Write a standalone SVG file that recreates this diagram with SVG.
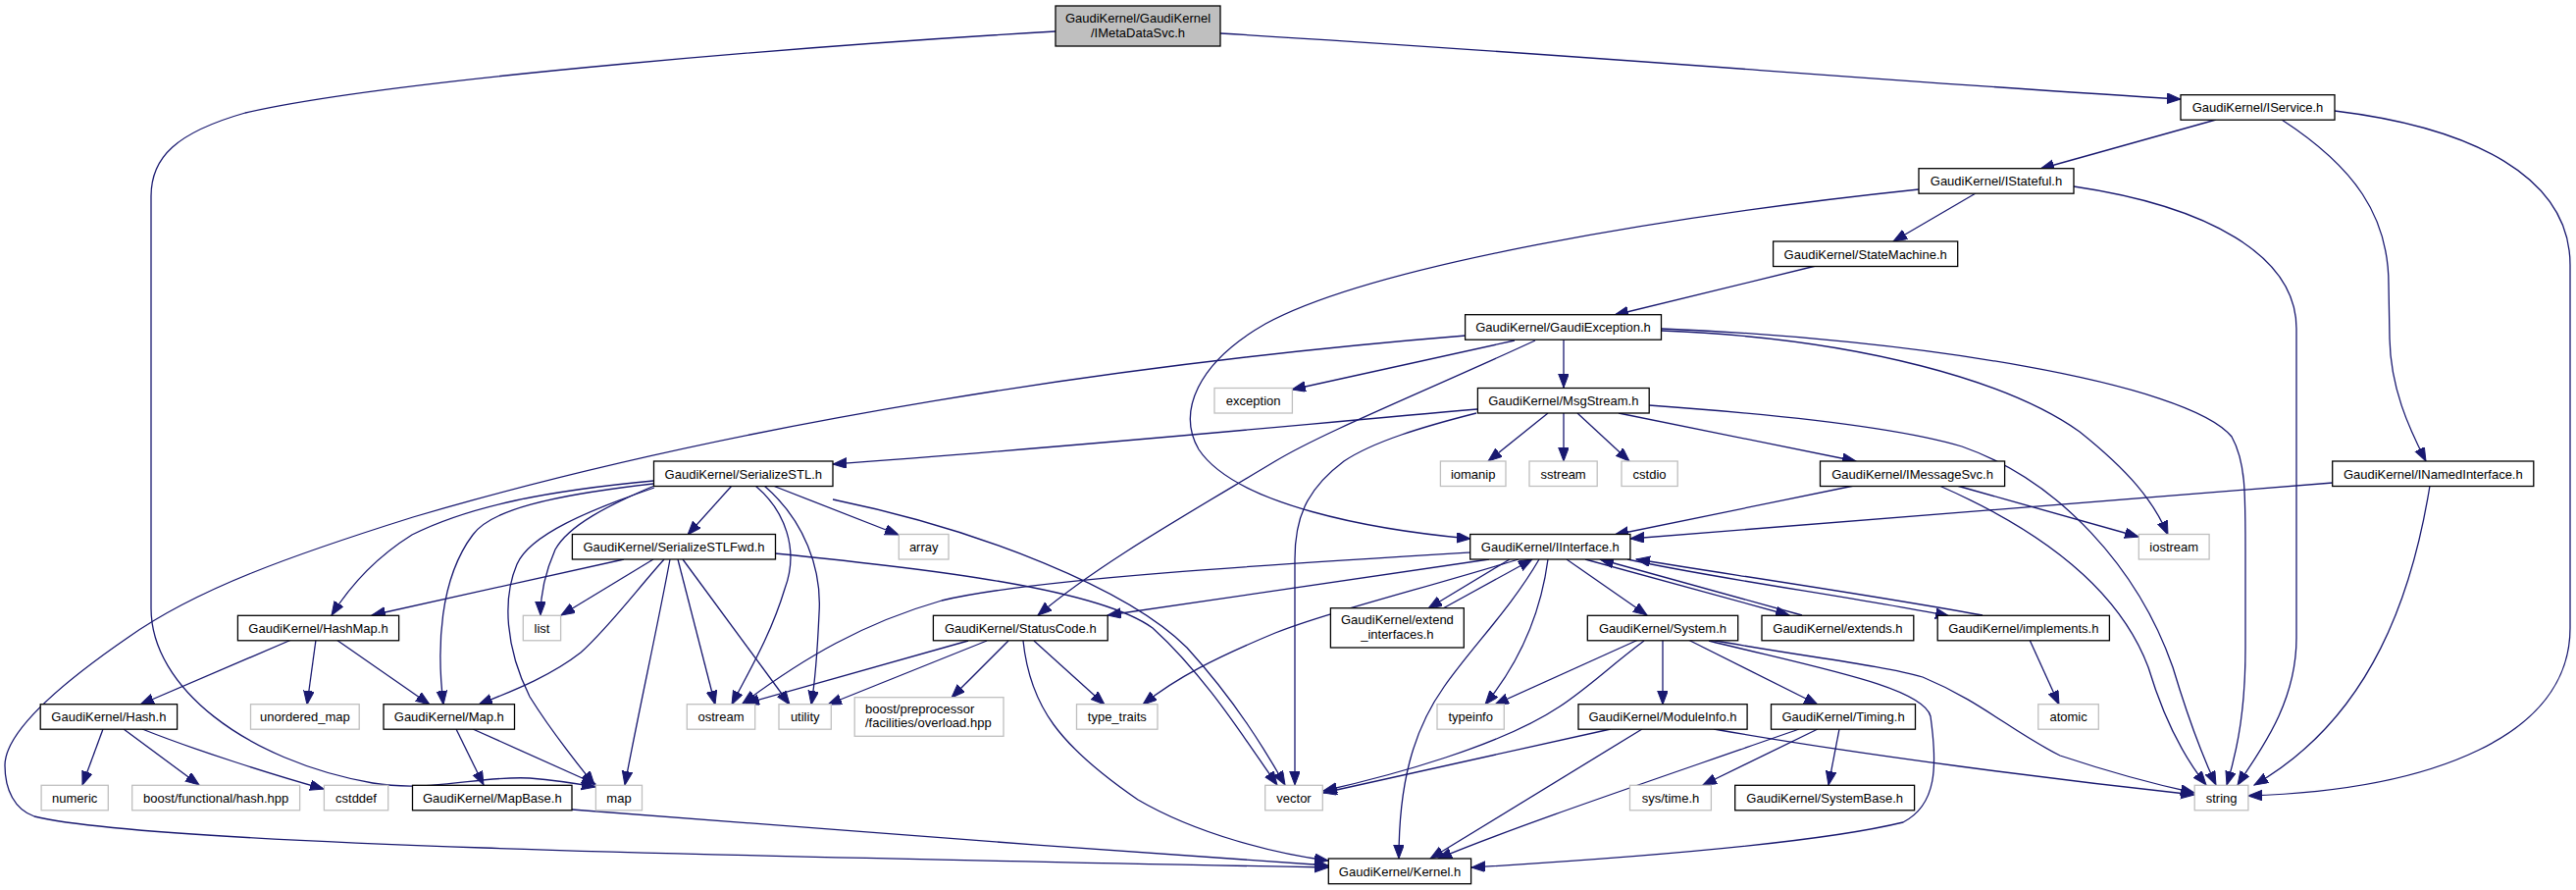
<svg xmlns="http://www.w3.org/2000/svg" width="2626" height="907" viewBox="0 0 2626 907">
<defs>
<marker id="ah" markerUnits="userSpaceOnUse" markerWidth="15" markerHeight="12" refX="14" refY="5.3" orient="auto"><path d="M0,0 L14,5.3 L0,10.6 z" fill="#191970" stroke="#191970" stroke-width="1"/></marker>
<style>
text{font-family:"Liberation Sans",Arial,Helvetica,sans-serif;font-size:13px;fill:#000;text-anchor:middle}
.n rect{fill:#fff;stroke:#000;stroke-width:1.3}
.x rect{fill:#fff;stroke:#bfbfbf;stroke-width:1.3}
.r rect{fill:#bfbfbf;stroke:#000;stroke-width:1.3}
#edges path{fill:none;stroke:#191970;stroke-width:1.3;marker-end:url(#ah)}
</style>
</defs>
<rect width="2626" height="907" fill="#fff"/>
<g id="edges">
<path d="M1076,32 C850,45 400,80 250,115 C180,135 154,160 154,200 L154,620 C154,700 250,775 380,798 C440,808 490,790 540,793 C565,795 585,798 607,802"/>
<path d="M1244,34 C1600,55 1950,85 2223,101"/>
<path d="M2259,122 L2080,172"/>
<path d="M2326,122 C2400,170 2435,220 2435,290 L2436,345 C2437,395 2455,435 2473,470"/>
<path d="M2380,113 C2520,130 2620,180 2620,270 L2620,640 C2620,750 2480,805 2292,811"/>
<path d="M2014,197 L1930,246"/>
<path d="M1956,193 C1700,220 1400,270 1290,330 C1220,370 1200,420 1222,458 C1260,515 1400,540 1499,549"/>
<path d="M2114,190 C2250,210 2341,260 2341,335 L2341,650 C2341,720 2300,770 2281,800"/>
<path d="M1851,271 L1646,321"/>
<path d="M1594,346 L1594,395"/>
<path d="M1544,347 L1317,397"/>
<path d="M1565,347 C1450,400 1350,440 1300,470 C1200,530 1120,575 1058,627"/>
<path d="M1494,342 C1150,370 750,430 421,527 C300,565 200,600 130,650 C50,705 5,750 5,780 C5,805 15,825 35,832 C150,860 700,872 1354,884"/>
<path d="M1694,337 C1900,345 2050,390 2120,440 C2170,480 2195,510 2210,545"/>
<path d="M1694,335 C1950,345 2230,390 2275,445 C2289,470 2289,500 2289,560 L2289,660 C2289,720 2282,760 2270,800"/>
<path d="M1578,421 L1517,470"/>
<path d="M1594,421 L1594,470"/>
<path d="M1608,421 L1661,470"/>
<path d="M1650,421 L1892,470"/>
<path d="M1681,413 C1850,425 1950,440 2000,455 C2100,490 2180,580 2215,680 C2230,730 2245,770 2259,800"/>
<path d="M1506,417 C1300,435 1100,455 849,473"/>
<path d="M1505,421 C1450,435 1400,450 1370,470 C1330,500 1320,530 1320,570 L1320,800"/>
<path d="M1890,495 L1646,545"/>
<path d="M1995,495 L2180,547"/>
<path d="M1977,495 C2080,540 2160,600 2190,680 C2205,730 2225,770 2249,800"/>
<path d="M2378,492 L1662,549"/>
<path d="M2477,495 C2460,600 2420,730 2298,800"/>
<path d="M746,495 L701,545"/>
<path d="M788,495 L916,545"/>
<path d="M770,495 C800,520 815,560 800,600 C785,650 760,690 746,718"/>
<path d="M779,495 C820,530 838,580 835,625 C833,670 830,700 827,718"/>
<path d="M666,490 C560,500 480,515 420,545 C380,570 355,600 338,627"/>
<path d="M666,493 C560,505 500,520 482,545 C448,590 445,660 452,718"/>
<path d="M667,495 C620,515 580,535 566,560 C555,585 551,605 551,627"/>
<path d="M667,497 C600,520 540,545 527,575 C512,610 515,660 540,710 C565,750 590,780 606,800"/>
<path d="M849,509 C1000,540 1150,600 1210,660 C1260,715 1290,765 1310,800"/>
<path d="M790,564 C950,580 1120,600 1175,640 C1230,690 1270,755 1302,800"/>
<path d="M636,570 L379,627"/>
<path d="M666,570 L572,627"/>
<path d="M677,570 C650,600 620,640 592,665 C560,690 520,705 488,718"/>
<path d="M683,570 C670,640 650,730 637,800"/>
<path d="M691,570 L729,718"/>
<path d="M696,570 L805,718"/>
<path d="M297,652 L143,718"/>
<path d="M322,652 L313,718"/>
<path d="M343,652 L438,718"/>
<path d="M105,743 L84,800"/>
<path d="M126,743 L203,800"/>
<path d="M145,743 C200,765 280,790 330,804"/>
<path d="M465,743 L493,800"/>
<path d="M482,743 L607,799"/>
<path d="M583,825 C700,835 1100,865 1354,882"/>
<path d="M987,653 L760,717"/>
<path d="M1006,653 L844,718"/>
<path d="M1028,653 L970,711"/>
<path d="M1054,653 L1126,718"/>
<path d="M1043,653 C1050,720 1080,760 1160,815 C1220,850 1300,870 1354,877"/>
<path d="M1499,563 C1300,575 1050,590 960,612 C880,635 820,670 757,717"/>
<path d="M1518,570 L1129,627"/>
<path d="M1548,570 C1450,600 1350,625 1300,645 C1240,670 1200,690 1165,718"/>
<path d="M1539,570 L1456,620"/>
<path d="M1471,620 L1562,570"/>
<path d="M1569,570 C1540,620 1500,660 1472,700 C1440,745 1426,800 1426,875"/>
<path d="M1578,570 C1570,630 1545,680 1514,718"/>
<path d="M1597,570 L1679,627"/>
<path d="M1616,570 L1824,627"/>
<path d="M1837,627 L1631,570"/>
<path d="M1659,570 C1750,590 1900,610 1987,628"/>
<path d="M2021,627 C1900,605 1760,585 1668,570"/>
<path d="M1670,652 L1524,718"/>
<path d="M1676,653 C1640,680 1620,700 1590,720 C1530,760 1420,790 1349,806"/>
<path d="M1695,652 L1695,718"/>
<path d="M1721,652 L1853,718"/>
<path d="M1744,652 C1830,668 1920,678 1960,690 C2020,715 2050,745 2100,770 C2160,790 2200,800 2237,808"/>
<path d="M1742,653 C1850,680 1960,700 1968,730 C1975,780 1975,820 1940,838 C1850,860 1650,875 1500,884"/>
<path d="M1642,743 L1349,808"/>
<path d="M1674,743 L1458,875"/>
<path d="M1747,743 C1900,770 2100,795 2237,810"/>
<path d="M1853,743 L1736,800"/>
<path d="M1875,743 L1864,800"/>
<path d="M1834,743 C1700,790 1550,840 1466,875"/>
<path d="M2069,652 L2099,718"/>
</g>
<g id="n_top" class="r"><rect x="1076" y="6" width="168" height="41"/><text x="1160" y="23">GaudiKernel/GaudiKernel</text><text x="1160" y="37.5">/IMetaDataSvc.h</text></g>
<g id="n_iservice" class="n"><rect x="2223" y="96.7" width="157" height="25.5"/><text x="2301.5" y="114.2">GaudiKernel/IService.h</text></g>
<g id="n_istateful" class="n"><rect x="1956" y="171.7" width="158" height="25.5"/><text x="2035" y="189.2">GaudiKernel/IStateful.h</text></g>
<g id="n_statemachine" class="n"><rect x="1807.6" y="246" width="188.1" height="25.5"/><text x="1901.7" y="263.5">GaudiKernel/StateMachine.h</text></g>
<g id="n_gaudiexception" class="n"><rect x="1493.6" y="320.7" width="199.9" height="25.5"/><text x="1593.5" y="338.2">GaudiKernel/GaudiException.h</text></g>
<g id="n_exception" class="x"><rect x="1238" y="395.5" width="79.4" height="25.5"/><text x="1277.7" y="413">exception</text></g>
<g id="n_msgstream" class="n"><rect x="1506.4" y="395.5" width="174.8" height="25.5"/><text x="1593.8" y="413">GaudiKernel/MsgStream.h</text></g>
<g id="n_serializestl" class="n"><rect x="666.5" y="470" width="182.5" height="25.5"/><text x="757.8" y="487.5">GaudiKernel/SerializeSTL.h</text></g>
<g id="n_iomanip" class="x"><rect x="1468.4" y="470" width="66.6" height="25.5"/><text x="1501.7" y="487.5">iomanip</text></g>
<g id="n_sstream" class="x"><rect x="1559" y="470" width="69.2" height="25.5"/><text x="1593.6" y="487.5">sstream</text></g>
<g id="n_cstdio" class="x"><rect x="1653" y="470" width="57.2" height="25.5"/><text x="1681.6" y="487.5">cstdio</text></g>
<g id="n_imessagesvc" class="n"><rect x="1855.5" y="470" width="188.1" height="25.5"/><text x="1949.6" y="487.5">GaudiKernel/IMessageSvc.h</text></g>
<g id="n_inamedinterface" class="n"><rect x="2377.7" y="470" width="205.1" height="25.5"/><text x="2480.3" y="487.5">GaudiKernel/INamedInterface.h</text></g>
<g id="n_serializestlfwd" class="n"><rect x="583.4" y="544.5" width="207.1" height="25.5"/><text x="687" y="562">GaudiKernel/SerializeSTLFwd.h</text></g>
<g id="n_array" class="x"><rect x="916.3" y="544.5" width="50.7" height="25.5"/><text x="941.7" y="562">array</text></g>
<g id="n_iinterface" class="n"><rect x="1498.7" y="544.5" width="163.2" height="25.5"/><text x="1580.3" y="562">GaudiKernel/IInterface.h</text></g>
<g id="n_iostream" class="x"><rect x="2180.3" y="544.5" width="71.8" height="25.5"/><text x="2216.2" y="562">iostream</text></g>
<g id="n_hashmap" class="n"><rect x="242.4" y="627.3" width="164.2" height="25.5"/><text x="324.5" y="644.8">GaudiKernel/HashMap.h</text></g>
<g id="n_list" class="x"><rect x="533.3" y="627.3" width="38.3" height="25.5"/><text x="552.5" y="644.8">list</text></g>
<g id="n_statuscode" class="n"><rect x="951.4" y="627.3" width="177.8" height="25.5"/><text x="1040.3" y="644.8">GaudiKernel/StatusCode.h</text></g>
<g id="n_extend_interfaces" class="n"><rect x="1356.4" y="619.7" width="135.9" height="40.3"/><text x="1424.4" y="636.2">GaudiKernel/extend</text><text x="1424.4" y="651">_interfaces.h</text></g>
<g id="n_system" class="n"><rect x="1618.3" y="627.3" width="153.4" height="25.5"/><text x="1695" y="644.8">GaudiKernel/System.h</text></g>
<g id="n_extends" class="n"><rect x="1796" y="627.3" width="154.8" height="25.5"/><text x="1873.4" y="644.8">GaudiKernel/extends.h</text></g>
<g id="n_implements" class="n"><rect x="1975.2" y="627.3" width="175.2" height="25.5"/><text x="2062.8" y="644.8">GaudiKernel/implements.h</text></g>
<g id="n_hash" class="n"><rect x="41.2" y="717.7" width="139.4" height="25.5"/><text x="110.9" y="735.2">GaudiKernel/Hash.h</text></g>
<g id="n_unordered_map" class="x"><rect x="255.5" y="717.7" width="110.7" height="25.5"/><text x="310.9" y="735.2">unordered_map</text></g>
<g id="n_map_h" class="n"><rect x="391" y="717.7" width="133.5" height="25.5"/><text x="457.8" y="735.2">GaudiKernel/Map.h</text></g>
<g id="n_ostream" class="x"><rect x="700.3" y="717.7" width="69.4" height="25.5"/><text x="735" y="735.2">ostream</text></g>
<g id="n_utility" class="x"><rect x="794" y="717.7" width="53.3" height="25.5"/><text x="820.7" y="735.2">utility</text></g>
<g id="n_boost_pp" class="x"><rect x="871.2" y="710.7" width="151.8" height="39.6"/><text x="882" y="727" style="text-anchor:start">boost/preprocessor</text><text x="882" y="741" style="text-anchor:start">/facilities/overload.hpp</text></g>
<g id="n_type_traits" class="x"><rect x="1097.5" y="717.7" width="82.5" height="25.5"/><text x="1138.8" y="735.2">type_traits</text></g>
<g id="n_typeinfo" class="x"><rect x="1465" y="717.7" width="68.3" height="25.5"/><text x="1499.2" y="735.2">typeinfo</text></g>
<g id="n_moduleinfo" class="n"><rect x="1609" y="717.7" width="172.1" height="25.5"/><text x="1695" y="735.2">GaudiKernel/ModuleInfo.h</text></g>
<g id="n_timing" class="n"><rect x="1805.5" y="717.7" width="147" height="25.5"/><text x="1879" y="735.2">GaudiKernel/Timing.h</text></g>
<g id="n_atomic" class="x"><rect x="2077.8" y="717.7" width="61.5" height="25.5"/><text x="2108.6" y="735.2">atomic</text></g>
<g id="n_numeric" class="x"><rect x="42.1" y="800.3" width="68.2" height="25.5"/><text x="76.2" y="817.8">numeric</text></g>
<g id="n_boost_hash" class="x"><rect x="134.7" y="800.3" width="170.9" height="25.5"/><text x="220.2" y="817.8">boost/functional/hash.hpp</text></g>
<g id="n_cstddef" class="x"><rect x="330.4" y="800.3" width="65.3" height="25.5"/><text x="363" y="817.8">cstddef</text></g>
<g id="n_mapbase" class="n"><rect x="420.5" y="800.3" width="162.5" height="25.5"/><text x="501.8" y="817.8">GaudiKernel/MapBase.h</text></g>
<g id="n_map" class="x"><rect x="607.4" y="800.3" width="47.1" height="25.5"/><text x="631" y="817.8">map</text></g>
<g id="n_vector" class="x"><rect x="1289.7" y="800.3" width="58.6" height="25.5"/><text x="1319" y="817.8">vector</text></g>
<g id="n_systime" class="x"><rect x="1661.5" y="800.3" width="82.9" height="25.5"/><text x="1703" y="817.8">sys/time.h</text></g>
<g id="n_systembase" class="n"><rect x="1768.7" y="800.3" width="182.9" height="25.5"/><text x="1860.2" y="817.8">GaudiKernel/SystemBase.h</text></g>
<g id="n_string" class="x"><rect x="2237.2" y="800.3" width="54.7" height="25.5"/><text x="2264.6" y="817.8">string</text></g>
<g id="n_kernel" class="n"><rect x="1354.3" y="875" width="145.3" height="25.7"/><text x="1427" y="892.5">GaudiKernel/Kernel.h</text></g>
</svg>
